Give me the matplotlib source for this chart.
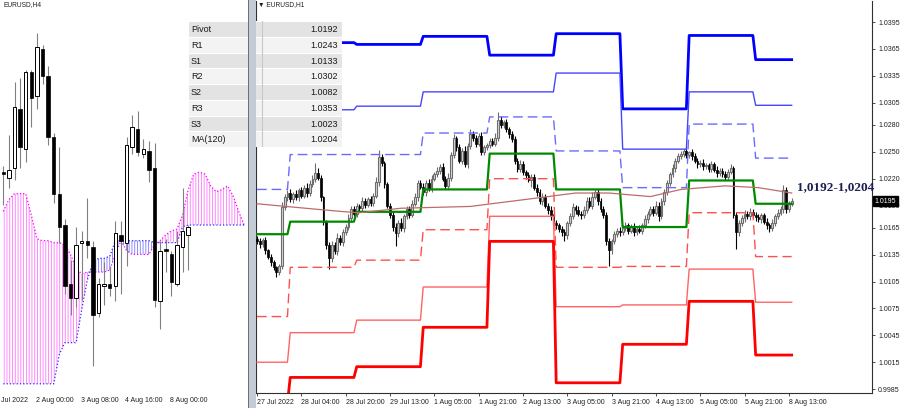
import numpy as np
import matplotlib.pyplot as plt
from matplotlib.patches import Rectangle
from matplotlib.transforms import blended_transform_factory

plt.rcParams['font.family'] = ['Liberation Sans', 'DejaVu Sans']
plt.rcParams['hatch.linewidth'] = 0.6

# ---------------- H1 chart (right) : prices in pips above 1.0000 ----------------
h1_first_open = 153
h1_close = [150, 147, 152, 140, 133, 127, 121, 116, 122, 188,
            199, 204, 197, 203, 199, 207, 201, 210, 204, 214,
            220, 226, 221, 199, 172, 146, 131, 146, 139, 154,
            149, 160, 166, 176, 186, 181, 190, 187, 195, 191,
            197, 193, 201, 216, 244, 237, 214, 190, 180, 166,
            159, 171, 165, 178, 186, 180, 192, 199, 215, 211,
            205, 215, 209, 220, 225, 229, 233, 220, 212, 221,
            246, 265, 255, 240, 251, 236, 256, 270, 265, 259,
            268, 250, 255, 258, 262, 259, 266, 286, 280, 283,
            275, 270, 264, 240, 231, 236, 227, 224, 219, 222,
            210, 205, 195, 200, 190, 185, 178, 171, 168, 164,
            160, 157, 170, 178, 188, 185, 181, 179, 185, 195,
            190, 200, 205, 195, 186, 180, 150, 140, 150, 158,
            162, 160, 165, 168, 162, 166, 160, 164, 162, 168,
            175, 181, 186, 182, 190, 178, 195, 205, 215, 225,
            232, 240, 245, 248, 251, 246, 250, 245, 240, 236,
            238, 234, 235, 231, 236, 230, 226, 229, 225, 222,
            228, 232, 180, 160, 170, 176, 181, 178, 183, 180,
            177, 175, 179, 172, 168, 165, 171, 178, 182, 186,
            207, 186, 192, 195]
h1_wick_up = [3, 4, 2, 3, 2, 3, 2, 2, 3, 6,
              4, 3, 5, 2, 4, 3, 4, 3, 5, 4,
              4, 11, 6, 3, 2, 2, 3, 4, 3, 5,
              3, 4, 3, 5, 3, 4, 3, 2, 4, 3,
              3, 4, 3, 6, 8, 4, 3, 2, 3, 4,
              4, 3, 5, 3, 4, 3, 4, 5, 3, 4,
              4, 3, 5, 4, 3, 4, 3, 4, 3, 5,
              4, 5, 3, 4, 3, 5, 4, 6, 3, 4,
              3, 4, 3, 2, 4, 3, 5, 9, 4, 3,
              4, 3, 3, 4, 3, 5, 4, 3, 4, 3,
              3, 4, 3, 4, 3, 3, 4, 3, 3, 2,
              3, 4, 3, 4, 5, 3, 4, 3, 4, 5,
              4, 5, 4, 3, 3, 4, 3, 4, 3, 4,
              3, 4, 3, 4, 3, 3, 4, 3, 4, 3,
              4, 3, 4, 3, 5, 4, 3, 4, 4, 3,
              4, 3, 4, 3, 2, 4, 1, 3, 4, 3,
              3, 4, 3, 3, 4, 3, 4, 3, 3, 4,
              3, 4, 2, 3, 4, 3, 4, 3, 4, 3,
              3, 4, 3, 3, 4, 3, 4, 3, 4, 4,
              6, 4, 3, 3]
h1_wick_dn = [3, 4, 3, 4, 3, 4, 3, 6, 4, 3,
              3, 4, 3, 4, 3, 4, 3, 3, 4, 3,
              3, 4, 3, 4, 4, 5, 12, 4, 3, 4,
              3, 4, 3, 3, 4, 3, 4, 3, 3, 4,
              3, 4, 3, 3, 4, 3, 4, 3, 4, 4,
              14, 4, 3, 4, 3, 4, 3, 3, 4, 3,
              3, 4, 3, 4, 3, 3, 4, 3, 4, 3,
              4, 3, 4, 3, 4, 3, 4, 3, 3, 4,
              3, 4, 3, 3, 4, 3, 3, 4, 3, 3,
              3, 4, 3, 4, 3, 4, 3, 4, 3, 8,
              3, 4, 3, 4, 3, 4, 4, 3, 4, 3,
              4, 7, 4, 3, 3, 4, 3, 4, 3, 3,
              3, 4, 3, 4, 3, 4, 4, 18, 4, 3,
              3, 4, 3, 3, 4, 3, 4, 3, 3, 4,
              3, 4, 3, 4, 3, 5, 3, 4, 3, 3,
              3, 4, 3, 3, 4, 3, 3, 4, 3, 4,
              3, 4, 3, 3, 4, 3, 4, 3, 3, 4,
              3, 3, 4, 19, 4, 3, 4, 3, 4, 3,
              4, 3, 4, 3, 4, 5, 3, 4, 3, 3,
              4, 4, 3, 3]

h1_tick_bars = [0, 16, 32, 48, 64, 80, 96, 112, 128, 144, 160, 176, 192]
h1_tick_labels = ['27 Jul 2022', '28 Jul 04:00', '28 Jul 20:00', '29 Jul 13:00',
                  '1 Aug 05:00', '1 Aug 21:00', '2 Aug 13:00', '3 Aug 05:00',
                  '3 Aug 21:00', '4 Aug 13:00', '5 Aug 05:00', '5 Aug 21:00',
                  '8 Aug 13:00']
h1_y_ticks = [1.0395, 1.0365, 1.0335, 1.0305, 1.0280, 1.0250, 1.0220, 1.0190,
              1.0165, 1.0135, 1.0105, 1.0075, 1.0045, 1.0015, 0.9985]
last_price = 1.0195

# daily pivot levels (27 Jul ... 8 Aug), bars per day
day_len = [12, 24, 24, 24, 24, 24, 24, 24, 14]
r3 = [1.0372, 1.0372, 1.0370, 1.0379, 1.0358, 1.0382, 1.0298, 1.0380, 1.0353]
r2 = [1.0297, 1.0297, 1.0301, 1.0317, 1.0317, 1.0338, 1.0253, 1.0317, 1.0302]
r1 = [1.0208, 1.0247, 1.0247, 1.0271, 1.0289, 1.0251, 1.0210, 1.0281, 1.0243]
pivot = [1.0158, 1.0172, 1.0183, 1.0208, 1.0248, 1.0208, 1.0166, 1.0218, 1.0192]
s1 = [1.0066, 1.0121, 1.0129, 1.0163, 1.0220, 1.0121, 1.0122, 1.0182, 1.0133]
s2 = [1.0015, 1.0048, 1.0062, 1.0099, 1.0178, 1.0077, 1.0079, 1.0119, 1.0082]
s3 = [0.9970, 0.9998, 1.0010, 1.0054, 1.0150, 0.9992, 1.0035, 1.0083, 1.0023]

ma_bars = [0, 21, 32, 37, 52, 77, 100, 115, 127, 142, 153, 169, 181, 193]
ma_vals = [1.0192, 1.0186, 1.0183, 1.0182, 1.0187, 1.0189, 1.0198, 1.0204,
           1.0204, 1.0200, 1.0208, 1.0212, 1.0210, 1.0204]

# ---------------- H4 chart (left) ----------------
h4_open = [1.0222, 1.0219, 1.0224, 1.0254, 1.0234, 1.0273, 1.0261, 1.0285, 1.0271, 1.0240,
           1.0211, 1.0195, 1.0165, 1.0158, 1.0186, 1.0187, 1.0184, 1.0150, 1.0164, 1.0165,
           1.0164, 1.0190, 1.0186, 1.0235, 1.0244, 1.0231, 1.0233, 1.0224, 1.0156, 1.0183,
           1.0180, 1.0165, 1.0184, 1.0190]
h4_high = [1.0225, 1.0241, 1.0268, 1.0270, 1.0274, 1.0274, 1.0293, 1.0287, 1.0276, 1.0242,
           1.0235, 1.0198, 1.0177, 1.0194, 1.0192, 1.0209, 1.0187, 1.0168, 1.0176, 1.0174,
           1.0197, 1.0197, 1.0240, 1.0251, 1.0253, 1.0239, 1.0238, 1.0237, 1.0187, 1.0188,
           1.0182, 1.0192, 1.0214, 1.0195]
h4_low = [1.0205, 1.0214, 1.0218, 1.0224, 1.0227, 1.0245, 1.0254, 1.0267, 1.0236, 1.0206,
          1.0186, 1.0160, 1.0149, 1.0153, 1.0157, 1.0178, 1.0123, 1.0148, 1.0154, 1.0159,
          1.0156, 1.0160, 1.0174, 1.0231, 1.0230, 1.0229, 1.0217, 1.0153, 1.0142, 1.0171,
          1.0159, 1.0164, 1.0171, 1.0172]
h4_close = [1.0221, 1.0223, 1.0255, 1.0235, 1.0273, 1.0260, 1.0286, 1.0271, 1.0240, 1.0211,
            1.0194, 1.0164, 1.0158, 1.0185, 1.0187, 1.0185, 1.0149, 1.0165, 1.0165, 1.0163,
            1.0191, 1.0187, 1.0236, 1.0245, 1.0232, 1.0234, 1.0223, 1.0157, 1.0182, 1.0182,
            1.0166, 1.0185, 1.0192, 1.0194]
# ichimoku cloud (pips above 1.0000), continues 10 bars past the last candle
span_a = [114, 114, 114, 114, 114, 114, 114, 114, 114, 114,
          129, 135, 135, 135, 152, 167, 176, 178, 178, 179,
          187, 187, 187, 187, 187, 187, 187, 186, 186, 186,
          186, 186, 194, 195, 195, 195, 195, 195, 195, 195,
          195, 195, 195, 195]
span_b = [202, 208, 211, 211, 211, 200, 188, 187, 187, 186,
          186, 185, 180, 173, 170, 171, 171, 171, 171, 172,
          180, 187, 182, 180, 180, 180, 180, 185, 187, 190,
          192, 193, 200, 213, 221, 222, 221, 215, 212, 213,
          215, 210, 202, 195]
h4_tick_bars = [-2, 6, 14, 22, 30]
h4_tick_labels = ['29 Jul 2022', '2 Aug 00:00', '3 Aug 08:00', '4 Aug 16:00', '8 Aug 00:00']

table_labels = ['Pivot', 'R1', 'S1', 'R2', 'S2', 'R3', 'S3', 'MA(120)']
table_values = [pivot[-1], r1[-1], s1[-1], r2[-1], s2[-1], r3[-1], s3[-1], ma_vals[-1]]

W, H = 900, 408


def px_box(x0, y0, x1, y1):
    return [x0 / W, 1 - y1 / H, (x1 - x0) / W, (y1 - y0) / H]


def draw_candles(ax, o, h, l, c, width, up_face, up_edge, dn_face, up_wick, dn_wick, min_h, elw=0.7):
    o, h, l, c = (np.asarray(a, dtype=float) for a in (o, h, l, c))
    x = np.arange(len(o))
    up = c >= o
    ax.vlines(x[up], l[up], h[up], color=up_wick, lw=0.8, zorder=2)
    ax.vlines(x[~up], l[~up], h[~up], color=dn_wick, lw=0.8, zorder=2)
    body = np.maximum(np.abs(c - o), min_h)
    bottom = np.minimum(o, c)
    ax.bar(x[up], body[up], width, bottom[up], facecolor=up_face, edgecolor=up_edge, lw=elw, zorder=3)
    ax.bar(x[~up], body[~up], width, bottom[~up], facecolor=dn_face, edgecolor=dn_face, lw=0.5, zorder=3)


fig = plt.figure(figsize=(9, 4.08), dpi=100)

# ---------- left: H4 ----------
ax4 = fig.add_axes(px_box(0, 0, 247, 393))
kc = np.arange(len(span_a))
sa = 1 + np.array(span_a) / 10000
sb = 1 + np.array(span_b) / 10000
ax4.fill_between(kc, sa, sb, where=sb >= sa, interpolate=True, facecolor='none',
                 edgecolor='#ff77ff', hatch='||||||', linewidth=0)
ax4.fill_between(kc, sa, sb, where=sb < sa, interpolate=True, facecolor='none',
                 edgecolor='#7a7aff', hatch='||||||', linewidth=0)
ax4.plot(kc, sb, color='#ff00ff', ls=':', lw=0.9)
ax4.plot(kc, sa, color='#2a2aff', ls=':', lw=0.9)
draw_candles(ax4, h4_open, h4_high, h4_low, h4_close, 0.62, 'white', 'black', 'black',
             '#808080', '#808080', 0.00008)
ax4.set_xlim(-0.59, 43.5)
ax4.set_ylim(1.01093, 1.03098)
ax4.axis('off')
tr4 = blended_transform_factory(ax4.transData, ax4.transAxes)
for b, lab in zip(h4_tick_bars, h4_tick_labels):
    ax4.text(b - 0.2, -0.01, lab, transform=tr4, ha='left', va='top', fontsize=5,
             color='#202020', clip_on=False)
fig.text(3 / W, 1 - 5 / H, 'EURUSD,H4', fontsize=4.8, va='center', color='#202020')

# separator between windows
fig.add_artist(Rectangle((248 / W, 0), 8 / W, 1, transform=fig.transFigure,
                         facecolor='#c3cbd6', edgecolor='none'))
fig.add_artist(Rectangle((247.5 / W, 0), 1 / W, 1, transform=fig.transFigure,
                         facecolor='#707070', edgecolor='none'))

# ---------- right: H1 ----------
ax1 = fig.add_axes(px_box(256, 1, 872, 393))
n = len(h1_close)
c1 = 1 + np.array(h1_close) / 10000
o1 = np.concatenate([[1 + h1_first_open / 10000], c1[:-1]])
hi1 = np.maximum(o1, c1) + np.array(h1_wick_up) / 10000
lo1 = np.minimum(o1, c1) - np.array(h1_wick_dn) / 10000
draw_candles(ax1, o1, hi1, lo1, c1, 0.65, '#d8d8d8', '#6e6e6e', 'black', '#6e6e6e', 'black',
             0.00006, elw=0.8)

xb = np.arange(n)
levels = [
    (r3, '#0000ff', 2.0, '-'),
    (r2, '#4646ff', 1.0, '-'),
    (r1, '#6a6aff', 1.0, '--'),
    (pivot, '#008a00', 1.6, '-'),
    (s1, '#ff5050', 1.0, '--'),
    (s2, '#ff6464', 1.0, '-'),
    (s3, '#ff0000', 2.0, '-'),
]
for vals, col, lw, ls in levels:
    line, = ax1.plot(xb, np.repeat(vals, day_len), color=col, lw=lw, ls=ls, zorder=4)
    if ls == '--':
        line.set_dashes((7, 3.5))
ax1.plot(ma_bars, ma_vals, color='#c06a6a', lw=0.9, zorder=4)

ax1.set_xlim(-0.36, 222.0)
ax1.set_ylim(0.99806, 1.04185)
ax1.set_xticks(h1_tick_bars)
ax1.set_xticklabels(h1_tick_labels, ha='left', fontsize=5, color='#202020')
ax1.yaxis.tick_right()
ax1.set_yticks(h1_y_ticks)
ax1.set_yticklabels([f'{v:.4f}' for v in h1_y_ticks], fontsize=5, color='#202020')
ax1.tick_params(axis='both', length=2.5, width=0.6, pad=2, color='#303030')
ax1.spines['top'].set_visible(False)
for s in ('left', 'bottom', 'right'):
    ax1.spines[s].set_linewidth(0.8)
    ax1.spines[s].set_color('#303030')

trp = blended_transform_factory(ax1.transAxes, ax1.transData)
ax1.text(1.004, last_price, f'{last_price:.4f}', transform=trp, ha='left', va='center',
         fontsize=5, color='white', clip_on=False,
         bbox=dict(boxstyle='square,pad=0.25', facecolor='black', edgecolor='black'))
ax1.text(n + 0.8, 1.0210, f'{pivot[-1]:.4f}-{ma_vals[-1]:.4f}'.replace('.', ','),
         fontsize=9.5, fontweight='bold', family='Liberation Serif', color='#1c1c50',
         va='center', ha='left', zorder=6)
fig.text(258 / W, 1 - 5 / H, '\u25bc EURUSD,H1', fontsize=4.8, va='center', color='#202020')

# ---------- table overlay ----------
axt = fig.add_axes(px_box(188, 21, 342, 147))
axt.set_xlim(0, 154)
axt.set_ylim(126, 0)
axt.axis('off')
row_h = 126 / len(table_labels)
for i, (name, val) in enumerate(zip(table_labels, table_values)):
    axt.add_patch(Rectangle((0, i * row_h), 154, row_h,
                            facecolor=['#e3e3e3', '#f3f3f3'][i % 2], edgecolor='white', lw=0.8))
    axt.text(3, (i + 0.55) * row_h, name, va='center', ha='left', fontsize=6.5, color='#1a1a1a')
    axt.text(150, (i + 0.55) * row_h, f'{val:.4f}', va='center', ha='right', fontsize=6.5,
             color='#1a1a1a')
axt.plot([74, 74], [0, 126], color='#c8c8c8', lw=0.8)

fig.savefig('out.png', dpi=100)
